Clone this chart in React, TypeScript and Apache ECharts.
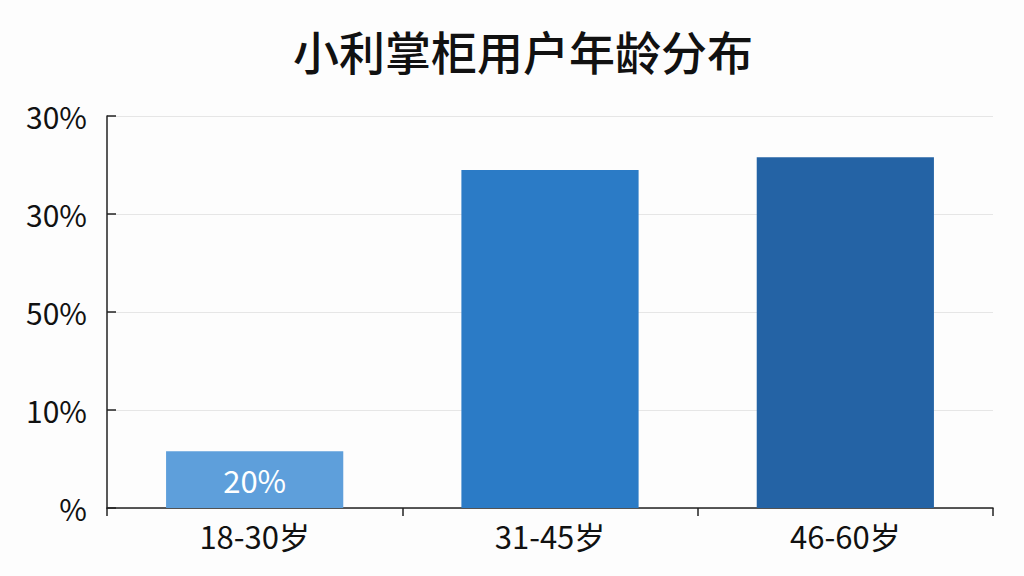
import {useEffect, useRef} from 'react';
import * as echarts from 'echarts';

const categories = ['18-30岁', '31-45岁', '46-60岁'];
const shares = [14.5, 86.2, 89.5];
const barLabels = ['20%', '', ''];
const yTickLabels = ['%', '10%', '50%', '30%', '30%'];
const barColors = ['#5e9fdb', '#2b7bc6', '#2463a5'];

const FONT = '"Noto Sans CJK SC", "Noto Sans", sans-serif';

export default function App() {
    const ref = useRef<HTMLDivElement | null>(null);

    useEffect(() => {
        if (!ref.current) return;
        const chart = echarts.init(ref.current, null, {renderer: 'svg'});
        chart.setOption({
            animation: false,
            backgroundColor: '#fdfdfd',
            title: {
                text: '小利掌柜用户年龄分布',
                left: 288,
                top: 22,
                textStyle: {fontFamily: FONT, fontSize: 46, fontWeight: 500, color: '#111'}
            },
            grid: {left: 107, right: 31, top: 116, bottom: 68, containLabel: false},
            xAxis: {
                type: 'category',
                data: categories,
                axisLine: {lineStyle: {color: '#222', width: 1.5}},
                axisTick: {show: true, length: 8, lineStyle: {color: '#222', width: 1.5}},
                axisLabel: {fontFamily: FONT, fontSize: 31, color: '#111', margin: 12}
            },
            yAxis: {
                type: 'value',
                min: 0,
                max: 100,
                interval: 25,
                axisLine: {show: true, lineStyle: {color: '#222', width: 1.5}},
                axisTick: {show: true, inside: true, length: 9, lineStyle: {color: '#222', width: 1.5}},
                splitLine: {lineStyle: {color: '#e6e6e6', width: 1}},
                axisLabel: {
                    fontFamily: FONT,
                    fontSize: 30,
                    color: '#111',
                    margin: 20,
                    formatter: (v: number) => yTickLabels[Math.round(v / 25)] ?? ''
                }
            },
            series: [{
                type: 'bar',
                barWidth: '60%',
                data: shares.map((v, i) => ({
                    value: v,
                    itemStyle: {color: barColors[i]},
                    label: {
                        show: barLabels[i] !== '',
                        position: 'inside',
                        formatter: barLabels[i],
                        color: '#fff',
                        fontFamily: FONT,
                        fontSize: 31
                    }
                }))
            }]
        });
        return () => chart.dispose();
    }, []);

    return <div ref={ref} style={{position: 'fixed', left: 0, top: 0, width: 1024, height: 576}}/>;
}
